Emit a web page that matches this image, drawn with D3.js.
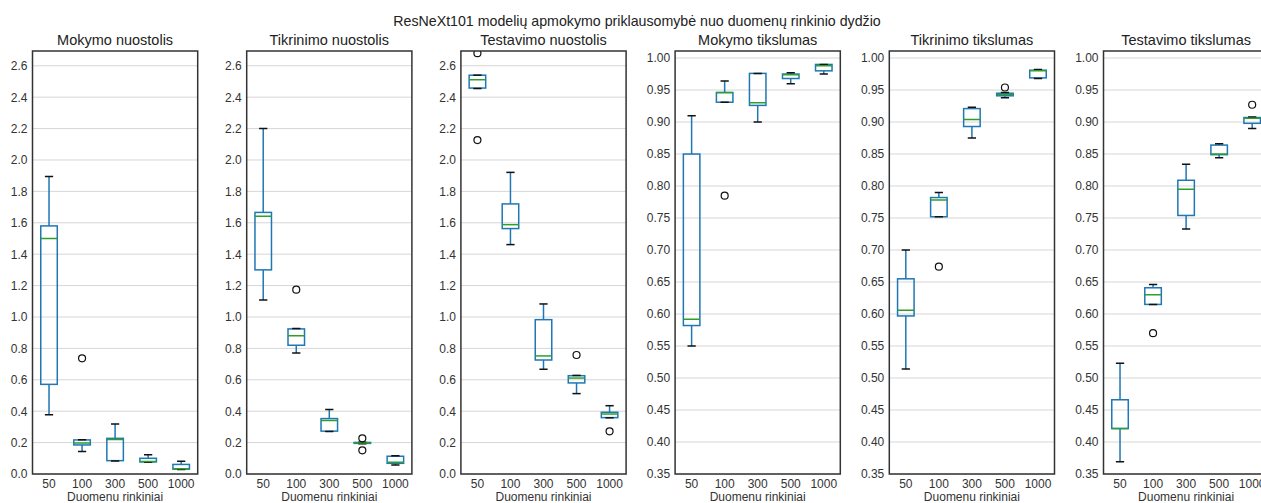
<!DOCTYPE html>
<html>
<head>
<meta charset="utf-8">
<script src="https://cdn.jsdelivr.net/npm/d3@7"></script>
<style>
  html, body { margin: 0; padding: 0; background: #fff; overflow: hidden; }
  svg { display: block; font-family: Arial, "Liberation Sans", sans-serif; }
</style>
</head>
<body>
<svg id="chart" width="1261" height="503"></svg>
<script>
// ---------- DATA ----------
const categories = ["50", "100", "300", "500", "1000"];
const mainTitle = "ResNeXt101 modelių apmokymo priklausomybė nuo duomenų rinkinio dydžio";
const panelTitles = ["Mokymo nuostolis", "Tikrinimo nuostolis", "Testavimo nuostolis",
                     "Mokymo tikslumas", "Tikrinimo tikslumas", "Testavimo tikslumas"];
const xLabel = "Duomenu rinkiniai";
const lossTicks = [0.0, 0.2, 0.4, 0.6, 0.8, 1.0, 1.2, 1.4, 1.6, 1.8, 2.0, 2.2, 2.4, 2.6];
const accTicks = [0.35, 0.40, 0.45, 0.50, 0.55, 0.60, 0.65, 0.70, 0.75, 0.80, 0.85, 0.90, 0.95, 1.00];
const lossDomain = [0, 2.694];
const accDomain = [0.35, 1.011];

// box stats per category: [whisker low, q1, median, q3, whisker high]
const mokymoNuostolis = [
  [0.378, 0.571, 1.500, 1.580, 1.895],
  [0.143, 0.185, 0.197, 0.217, 0.218],
  [0.082, 0.085, 0.220, 0.227, 0.318],
  [0.075, 0.077, 0.079, 0.100, 0.123],
  [0.028, 0.031, 0.034, 0.061, 0.081]];
const mokymoNuostolisOut = [[], [0.737], [], [], []];

const tikrinimoNuostolis = [
  [1.108, 1.300, 1.641, 1.666, 2.200],
  [0.771, 0.820, 0.881, 0.924, 0.926],
  [0.270, 0.273, 0.340, 0.353, 0.410],
  [0.193, 0.195, 0.198, 0.201, 0.203],
  [0.057, 0.068, 0.075, 0.113, 0.117]];
const tikrinimoNuostolisOut = [[], [1.174], [], [0.227, 0.151], []];

const testavimoNuostolis = [
  [2.455, 2.458, 2.511, 2.540, 2.540],
  [1.461, 1.563, 1.588, 1.720, 1.921],
  [0.667, 0.726, 0.752, 0.983, 1.083],
  [0.512, 0.580, 0.611, 0.626, 0.628],
  [0.358, 0.359, 0.382, 0.393, 0.435]];
const testavimoNuostolisOut = [[2.680, 2.127], [], [], [0.758], [0.272]];

const mokymoTikslumas = [
  [0.550, 0.582, 0.592, 0.850, 0.910],
  [0.931, 0.931, 0.946, 0.946, 0.964],
  [0.900, 0.926, 0.930, 0.976, 0.976],
  [0.960, 0.968, 0.974, 0.975, 0.977],
  [0.975, 0.980, 0.988, 0.990, 0.990]];
const mokymoTikslumasOut = [[], [0.785], [], [], []];

const tikrinimoTikslumas = [
  [0.514, 0.597, 0.606, 0.655, 0.700],
  [0.752, 0.752, 0.778, 0.782, 0.790],
  [0.875, 0.893, 0.904, 0.921, 0.923],
  [0.938, 0.941, 0.943, 0.945, 0.946],
  [0.968, 0.969, 0.980, 0.981, 0.982]];
const tikrinimoTikslumasOut = [[], [0.674], [], [0.954], []];

const testavimoTikslumas = [
  [0.369, 0.421, 0.421, 0.466, 0.523],
  [0.615, 0.615, 0.630, 0.641, 0.646],
  [0.733, 0.754, 0.795, 0.809, 0.834],
  [0.844, 0.849, 0.850, 0.864, 0.866],
  [0.890, 0.898, 0.906, 0.907, 0.908]];
const testavimoTikslumasOut = [[], [0.570], [], [], [0.927]];

// ---------- LAYOUT ----------
const panels = [
  {stats: mokymoNuostolis, out: mokymoNuostolisOut, domain: lossDomain, ticks: lossTicks, fmt: ".1f"},
  {stats: tikrinimoNuostolis, out: tikrinimoNuostolisOut, domain: lossDomain, ticks: lossTicks, fmt: ".1f"},
  {stats: testavimoNuostolis, out: testavimoNuostolisOut, domain: lossDomain, ticks: lossTicks, fmt: ".1f"},
  {stats: mokymoTikslumas, out: mokymoTikslumasOut, domain: accDomain, ticks: accTicks, fmt: ".2f"},
  {stats: tikrinimoTikslumas, out: tikrinimoTikslumasOut, domain: accDomain, ticks: accTicks, fmt: ".2f"},
  {stats: testavimoTikslumas, out: testavimoTikslumasOut, domain: accDomain, ticks: accTicks, fmt: ".2f"}
];

const plotTop = 51, plotBottom = 474;
const pw = 165.2;
const panelLeft = d3.scaleLinear().domain([0, 1]).range([32.5, 246.7]);

const BLUE = "#1f77b4", GREEN = "#2ca02c", TXT = "#333333";

const svg = d3.select("#chart");

svg.append("text")
  .attr("x", 637).attr("y", 26)
  .attr("text-anchor", "middle")
  .attr("font-size", 14.2).attr("fill", "#222")
  .text(mainTitle);

panels.forEach((p, i) => {
  const left = panelLeft(i);
  const g = svg.append("g").attr("transform", `translate(${left},0)`);
  const x = d3.scaleBand().domain(categories).range([0, pw]).paddingInner(0).paddingOuter(0);
  const y = d3.scaleLinear().domain(p.domain).range([plotBottom, plotTop]);
  const bw = x.bandwidth() * 0.5;
  const cw = x.bandwidth() * 0.25;
  const cx = c => x(c) + x.bandwidth() / 2;

  const clipId = "clip" + i;
  g.append("clipPath").attr("id", clipId)
    .append("rect").attr("x", 0).attr("y", plotTop).attr("width", pw).attr("height", plotBottom - plotTop);

  // gridlines
  g.append("g").selectAll("line").data(p.ticks).join("line")
    .attr("x1", 0).attr("x2", pw)
    .attr("y1", d => y(d)).attr("y2", d => y(d))
    .attr("stroke", "#d6d6d6").attr("stroke-width", 1);

  // y axis labels
  const yAxis = d3.axisLeft(y).tickValues(p.ticks).tickFormat(d3.format(p.fmt)).tickSize(0).tickPadding(5);
  const ya = g.append("g").call(yAxis);
  ya.select(".domain").remove();
  ya.selectAll("text").attr("font-size", 12).attr("fill", TXT).attr("font-family", "Arial, 'Liberation Sans', sans-serif");

  // x axis labels
  const xAxis = d3.axisBottom(x).tickSize(0).tickPadding(5);
  const xa = g.append("g").attr("transform", `translate(0,${plotBottom})`).call(xAxis);
  xa.select(".domain").remove();
  xa.selectAll("text").attr("font-size", 12).attr("fill", TXT).attr("font-family", "Arial, 'Liberation Sans', sans-serif");

  g.append("text")
    .attr("x", pw / 2).attr("y", 500.5)
    .attr("text-anchor", "middle").attr("font-size", 12).attr("fill", TXT)
    .text(xLabel);

  g.append("text")
    .attr("x", pw / 2).attr("y", 45)
    .attr("text-anchor", "middle").attr("font-size", 14.5).attr("fill", "#222")
    .text(panelTitles[i]);

  const plot = g.append("g").attr("clip-path", `url(#${clipId})`);
  const rows = categories.map((c, k) => ({c, s: p.stats[k], o: p.out[k]}));

  // whiskers
  plot.append("g").selectAll("line").data(rows).join("line")
    .attr("x1", d => cx(d.c)).attr("x2", d => cx(d.c))
    .attr("y1", d => y(d.s[0])).attr("y2", d => y(d.s[1]))
    .attr("stroke", BLUE).attr("stroke-width", 1.5);
  plot.append("g").selectAll("line").data(rows).join("line")
    .attr("x1", d => cx(d.c)).attr("x2", d => cx(d.c))
    .attr("y1", d => y(d.s[3])).attr("y2", d => y(d.s[4]))
    .attr("stroke", BLUE).attr("stroke-width", 1.5);

  // boxes
  plot.append("g").selectAll("rect").data(rows).join("rect")
    .attr("x", d => cx(d.c) - bw / 2).attr("width", bw)
    .attr("y", d => y(d.s[3])).attr("height", d => Math.max(0.5, y(d.s[1]) - y(d.s[3])))
    .attr("fill", "none").attr("stroke", BLUE).attr("stroke-width", 1.5);

  // caps
  [0, 4].forEach(idx => {
    plot.append("g").selectAll("line").data(rows).join("line")
      .attr("x1", d => cx(d.c) - cw / 2).attr("x2", d => cx(d.c) + cw / 2)
      .attr("y1", d => y(d.s[idx])).attr("y2", d => y(d.s[idx]))
      .attr("stroke", "#111").attr("stroke-width", 1.5);
  });

  // medians
  plot.append("g").selectAll("line").data(rows).join("line")
    .attr("x1", d => cx(d.c) - bw / 2).attr("x2", d => cx(d.c) + bw / 2)
    .attr("y1", d => y(d.s[2])).attr("y2", d => y(d.s[2]))
    .attr("stroke", GREEN).attr("stroke-width", 1.5);

  // fliers
  const fl = rows.flatMap(d => d.o.map(v => ({c: d.c, v})));
  plot.append("g").selectAll("circle").data(fl).join("circle")
    .attr("cx", d => cx(d.c)).attr("cy", d => y(d.v)).attr("r", 3.5)
    .attr("fill", "none").attr("stroke", "#111").attr("stroke-width", 1.2);

  // frame
  g.append("rect")
    .attr("x", 0).attr("y", plotTop).attr("width", pw).attr("height", plotBottom - plotTop)
    .attr("fill", "none").attr("stroke", "#333").attr("stroke-width", 1.5);
});
</script>
</body>
</html>
